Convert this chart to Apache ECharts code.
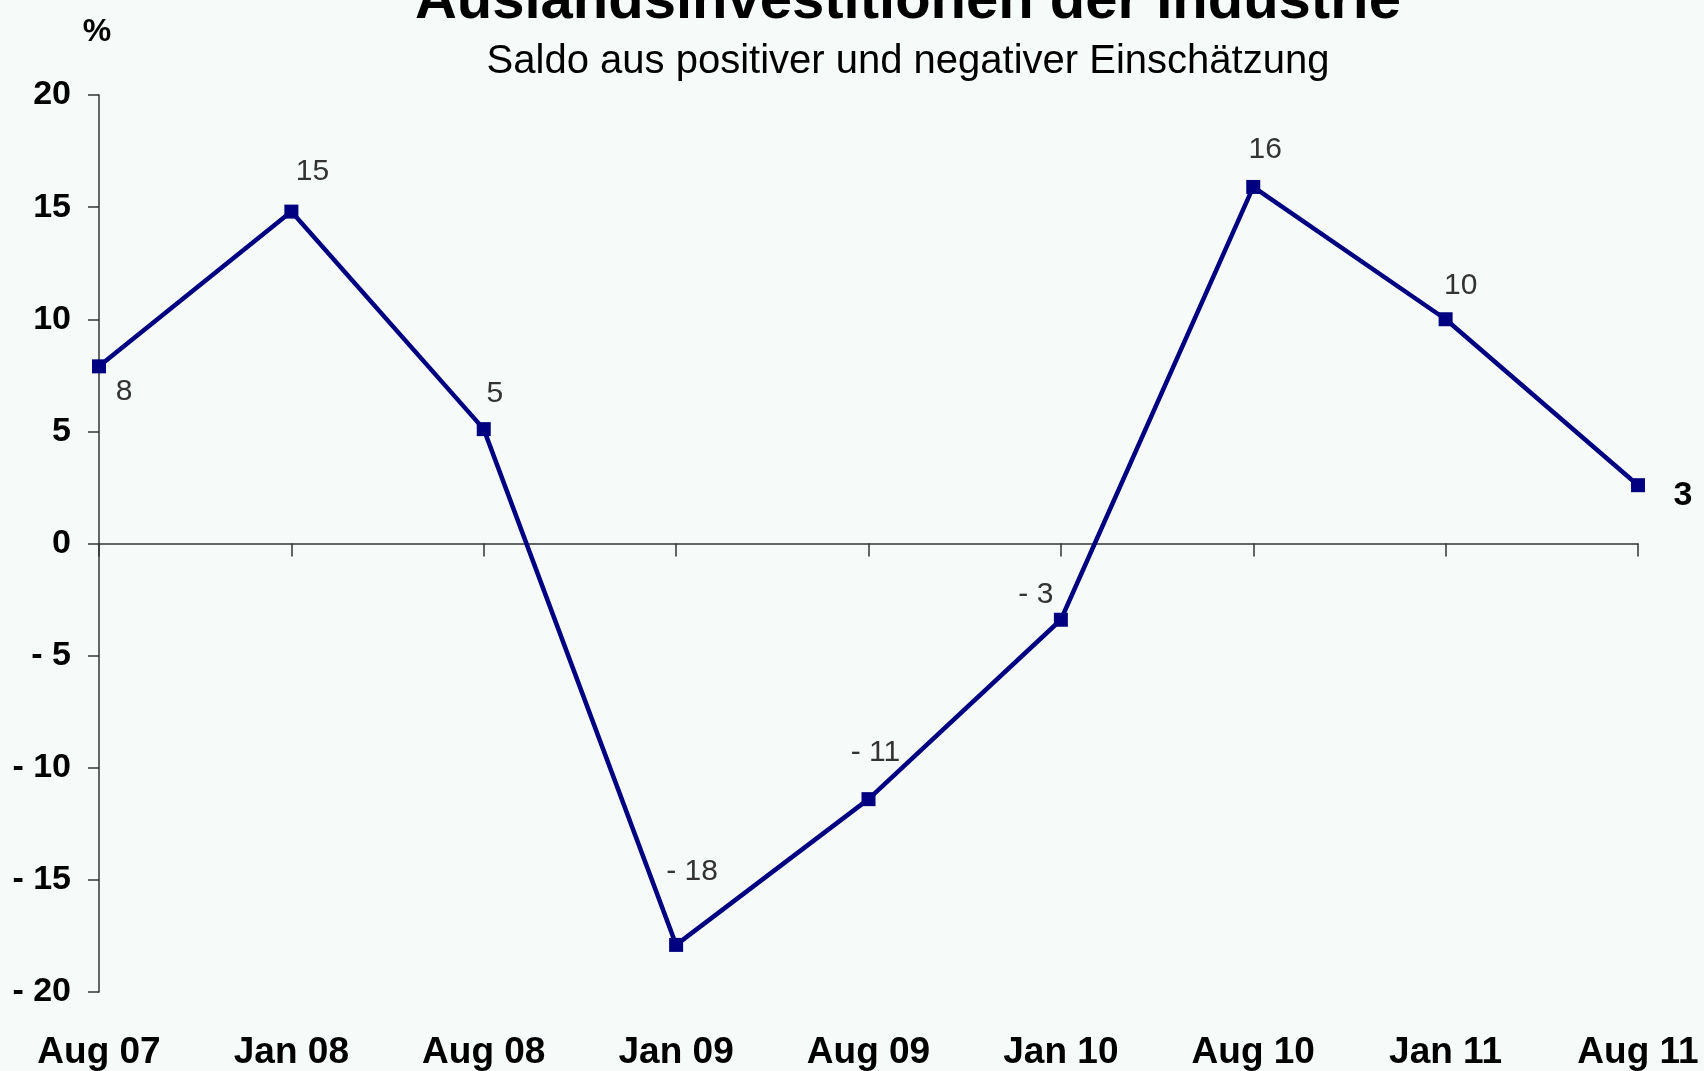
<!DOCTYPE html>
<html>
<head>
<meta charset="utf-8">
<script src="https://cdn.jsdelivr.net/npm/echarts@6/dist/echarts.min.js"></script>
<style>
html,body{margin:0;padding:0;background:#f6faf8;}
#chart{width:1704px;height:1071px;}
</style>
</head>
<body>
<div id="chart"></div>
<script>
const categories = ['Aug 07','Jan 08','Aug 08','Jan 09','Aug 09','Jan 10','Aug 10','Jan 11','Aug 11'];
const values = [7.9, 14.8, 5.1, -17.9, -11.4, -3.4, 15.9, 10.0, 2.6];
const valueLabels = [8, 15, 5, -18, -11, -3, 16, 10, 3];
const yTicks = {min: -20, max: 20, interval: 5};

// label placement (style, not data)
const labelOffsets = [[25,25],[21,-40],[11,-35],[16,-73],[7,-46],[-25,-25],[12,-37],[15,-34],[45,10]];

function fmtNum(v){ return v < 0 ? '- ' + Math.abs(v) : String(v); }

const FONT = '"Liberation Sans", Arial, sans-serif';

const seriesData = values.map((v, i) => {
  const last = i === values.length - 1;
  return {
    value: v,
    label: {
      offset: labelOffsets[i],
      formatter: fmtNum(valueLabels[i]),
      fontWeight: last ? 'bold' : 'normal',
      fontSize: last ? 34 : 30,
      color: last ? '#000' : '#333'
    }
  };
});

const chart = echarts.init(document.getElementById('chart'));
chart.setOption({
  backgroundColor: '#f6faf8',
  animation: false,
  title: [
    {
      text: 'Auslandsinvestitionen der Industrie',
      left: 903, top: -32, textAlign: 'center',
      textStyle: {fontFamily: FONT, fontSize: 58, fontWeight: 'bold', color: '#000'}
    },
    {
      text: 'Saldo aus positiver und negativer Einschätzung',
      left: 903, top: 37, textAlign: 'center',
      textStyle: {fontFamily: FONT, fontSize: 40, fontWeight: 'normal', color: '#000'}
    },
    {
      text: '%',
      left: 92, top: 11, textAlign: 'center',
      textStyle: {fontFamily: FONT, fontSize: 32, fontWeight: 'bold', color: '#000'}
    }
  ],
  grid: {left: 99, right: 66, top: 95, bottom: 79, containLabel: false},
  xAxis: [
    {
      type: 'category', data: categories, boundaryGap: false,
      axisLine: {onZero: true, lineStyle: {color: '#333', width: 1.5}},
      axisTick: {show: true, length: 13, alignWithLabel: true, interval: 0, lineStyle: {color: '#333', width: 1.5}},
      axisLabel: {show: false},
      splitLine: {show: false}
    },
    {
      type: 'category', data: categories, boundaryGap: false, position: 'bottom',
      axisLine: {show: false, onZero: false},
      axisTick: {show: false},
      axisLabel: {show: true, interval: 0, margin: 42, fontFamily: FONT, fontSize: 37, fontWeight: 'bold', color: '#000'},
      splitLine: {show: false}
    }
  ],
  yAxis: {
    type: 'value', min: yTicks.min, max: yTicks.max, interval: yTicks.interval,
    axisLine: {show: true, lineStyle: {color: '#333', width: 1.5}},
    axisTick: {show: true, length: 11, lineStyle: {color: '#333', width: 1.5}},
    axisLabel: {margin: 28, formatter: fmtNum, fontFamily: FONT, fontSize: 34, fontWeight: 'bold', color: '#000'},
    splitLine: {show: false}
  },
  series: [{
    type: 'line',
    xAxisIndex: 0,
    data: seriesData,
    symbol: 'rect',
    symbolSize: 14,
    lineStyle: {color: '#000080', width: 4.5},
    itemStyle: {color: '#000080'},
    label: {show: true, position: 'inside', align: 'center', verticalAlign: 'middle', fontFamily: FONT}
  }]
});
</script>
</body>
</html>
